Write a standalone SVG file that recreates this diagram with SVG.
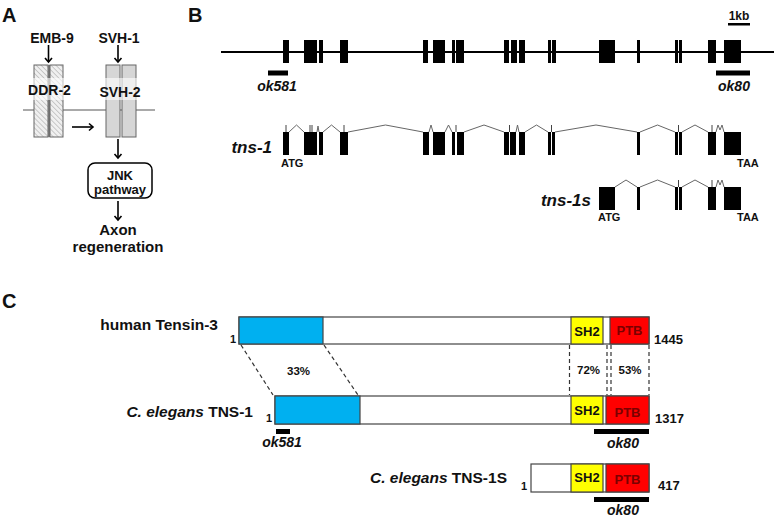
<svg xmlns="http://www.w3.org/2000/svg" width="775" height="518" viewBox="0 0 775 518">
<style>
text{font-family:"Liberation Sans",Arial,sans-serif;font-weight:bold;fill:#111}
.pl{font-size:20px}
.a{font-size:14px;text-anchor:middle}
.ex{fill:#000}
.intr{fill:none;stroke:#666;stroke-width:1}
.tick{stroke:#444;stroke-width:1}
.bar{stroke:#444;stroke-width:1.2}
.dash{stroke:#333;stroke-width:1.2;stroke-dasharray:4 3;fill:none}
.arr{stroke:#000;stroke-width:1.6;fill:none;marker-end:url(#ah)}
.lbl{font-size:15.5px;text-anchor:end}
.num{font-size:13px}
.dom{font-size:13px;text-anchor:middle}
.ptb{fill:#7a0000}
.pct{font-size:11.5px;text-anchor:middle}
.mut{font-size:14px;text-anchor:middle;font-style:italic}
.tr{font-size:17px;font-style:italic;text-anchor:end}
.cod{font-size:11px}
</style>
<defs>
<marker id="ah" markerWidth="10" markerHeight="10" refX="5" refY="5" orient="auto" markerUnits="userSpaceOnUse">
<path d="M1,1.5 L5,5 L1,8.5" fill="none" stroke="#000" stroke-width="1.6"/>
</marker>
<pattern id="hatch" width="3.5" height="3.5" patternUnits="userSpaceOnUse" patternTransform="rotate(-45)">
<rect width="3.5" height="3.5" fill="#f0f0f0"/>
<line x1="0" y1="0" x2="0" y2="3.5" stroke="#a0a0a0" stroke-width="1"/>
</pattern>
</defs>

<!-- Panel letters -->
<text class="pl" x="2" y="22">A</text>
<text class="pl" x="188" y="22">B</text>
<text class="pl" x="2" y="308">C</text>

<!-- ===== Panel A ===== -->
<line x1="23" y1="110" x2="155" y2="110" stroke="#555" stroke-width="1"/>
<g id="emb9"><text class="a" x="52" y="43">EMB-9</text></g>
<g id="svh1"><text class="a" x="119" y="43">SVH-1</text></g>
<g id="ddr2">
<rect x="34" y="65" width="14" height="72" fill="url(#hatch)" stroke="#666" stroke-width="1"/>
<rect x="48" y="65" width="2" height="72" fill="#777"/>
<rect x="50" y="65" width="13" height="72" fill="url(#hatch)" stroke="#666" stroke-width="1"/>
<rect x="33" y="78" width="31" height="22" fill="#fff" opacity="0.6"/>
<text class="a" x="49.5" y="95">DDR-2</text>
</g>
<g id="svh2">
<rect x="106" y="65" width="14" height="72" fill="#d6d6d6" stroke="#666" stroke-width="1"/>
<rect x="122" y="65" width="14" height="72" fill="#d6d6d6" stroke="#666" stroke-width="1"/>
<rect x="105" y="78" width="32" height="22" fill="#fff" opacity="0.6"/>
<text class="a" x="120" y="97">SVH-2</text>
</g>
<g id="jnk">
<rect x="88" y="163" width="64" height="35" rx="7" fill="#fff" stroke="#000" stroke-width="1.5"/>
<text class="a" x="120" y="180" style="font-size:13px">JNK</text>
<text class="a" x="120" y="194" style="font-size:13px">pathway</text>
</g>
<g id="axon">
<text class="a" x="118" y="235" style="font-size:15px">Axon</text>
<text class="a" x="118" y="252" style="font-size:15px">regeneration</text>
</g>
<g id="connectors-A">
<line class="arr" x1="48.5" y1="45" x2="48.5" y2="62"/>
<line class="arr" x1="118" y1="45" x2="118" y2="62"/>
<line class="arr" x1="72" y1="127" x2="93" y2="127"/>
<line class="arr" x1="118" y1="139" x2="118" y2="158"/>
<line class="arr" x1="118" y1="201" x2="118" y2="220"/>
</g>

<!-- ===== Panel B ===== -->
<g id="genomic">
<line x1="221" y1="52" x2="774" y2="52" stroke="#000" stroke-width="2"/>
<g class="ex">
<rect x="283" y="40" width="6" height="23"/>
<rect x="304" y="40" width="13" height="23"/>
<rect x="319" y="40" width="4" height="23"/>
<rect x="340" y="40" width="8" height="23"/>
<rect x="423" y="40" width="5" height="23"/>
<rect x="433" y="40" width="12" height="23"/>
<rect x="452" y="40" width="3" height="23"/>
<rect x="456" y="40" width="8" height="23"/>
<rect x="504" y="40" width="5" height="23"/>
<rect x="511" y="40" width="6" height="23"/>
<rect x="519" y="40" width="6" height="23"/>
<rect x="548" y="40" width="3" height="23"/>
<rect x="552" y="40" width="4" height="23"/>
<rect x="599" y="40" width="16" height="23"/>
<rect x="637" y="40" width="3" height="23"/>
<rect x="675" y="40" width="3" height="23"/>
<rect x="679" y="40" width="3" height="23"/>
<rect x="708" y="40" width="8" height="23"/>
<rect x="724" y="40" width="17" height="23"/>
</g>
</g>
<g id="scale">
<rect x="728" y="23" width="22" height="2.5" fill="#000"/>
<text x="739" y="20" style="font-size:12px;text-anchor:middle">1kb</text>
</g>
<g id="ok581-gene">
<rect x="268" y="70.5" width="20" height="5" fill="#000"/>
<text class="mut" x="277" y="91">ok581</text>
</g>
<g id="ok80-gene">
<rect x="716" y="70.5" width="34" height="5" fill="#000"/>
<text class="mut" x="734" y="91">ok80</text>
</g>

<g id="tns1">
<text class="tr" x="272" y="153">tns-1</text>
<g class="ex">
<rect x="283" y="132" width="6" height="23"/>
<rect x="304" y="132" width="13" height="23"/>
<rect x="319" y="132" width="4" height="23"/>
<rect x="340" y="132" width="8" height="23"/>
<rect x="423" y="132" width="6" height="23"/>
<rect x="433" y="132" width="12" height="23"/>
<rect x="452" y="132" width="3" height="23"/>
<rect x="457" y="132" width="7" height="23"/>
<rect x="504" y="132" width="5" height="23"/>
<rect x="510" y="132" width="6" height="23"/>
<rect x="519" y="132" width="6" height="23"/>
<rect x="548" y="132" width="3" height="23"/>
<rect x="552" y="132" width="3" height="23"/>
<rect x="637" y="132" width="3" height="23"/>
<rect x="675" y="132" width="3" height="23"/>
<rect x="679" y="132" width="3" height="23"/>
<rect x="708" y="132" width="8" height="23"/>
<rect x="724" y="132" width="17" height="23"/>
</g>
<path class="intr" d="M289,132 L296.5,125 L304,132 M317,132 L318,126 L319,132 M323,132 L331.5,125 L340,132 M348,132 L385.5,125 L423,132 M429,132 L431,125 L433,132 M445,132 L448.5,125 L452,132 M464,132 L484,125 L504,132 M516,132 L517.5,125 L519,132 M525,132 L536.5,125 L548,132 M555,132 L596,125 L637,132 M640,132 L657.5,125 L675,132 M682,132 L695,125 L708,132 M716,132 L718,125 L720,130 L722,125 L724,132"/>
<path class="tick" d="M286,125 V132 M310,125 V132 M312,125 V132 M344,125 V132 M456,125 V132 M509.5,125 V132 M551.5,125 V132 M678.5,125 V132 M712,125 V132"/>
<text class="cod" x="281" y="167">ATG</text>
<text class="cod" x="737" y="167">TAA</text>
</g>

<g id="tns1s">
<text class="tr" x="591" y="206">tns-1s</text>
<g class="ex">
<rect x="599" y="187" width="16" height="23"/>
<rect x="637" y="187" width="3" height="23"/>
<rect x="675" y="187" width="3" height="23"/>
<rect x="679" y="187" width="3" height="23"/>
<rect x="708" y="187" width="8" height="23"/>
<rect x="724" y="187" width="17" height="23"/>
</g>
<path class="intr" d="M615,187 L626,180 L637,187 M640,187 L657.5,180 L675,187 M682,187 L695,180 L708,187 M716,187 L718,180 L720,185 L722,180 L724,187"/>
<path class="tick" d="M678.5,180 V187 M712,180 V187"/>
<text class="cod" x="598" y="221">ATG</text>
<text class="cod" x="737" y="221">TAA</text>
</g>

<!-- ===== Panel C ===== -->
<g id="human-tensin3">
<text class="lbl" x="218" y="330">human Tensin-3</text>
<text x="230" y="343" style="font-size:11px">1</text>
<rect class="bar" x="239" y="317" width="410" height="27" fill="#fff"/>
<rect class="bar" x="239" y="317" width="84" height="27" fill="#00b0f0"/>
<rect class="bar" x="571" y="317" width="32" height="27" fill="#ffff00"/>
<rect class="bar" x="610" y="317" width="39" height="27" fill="#ff0000"/>
<text class="dom" x="587" y="336">SH2</text>
<text class="dom ptb" x="629.5" y="335">PTB</text>
<text class="num" x="654" y="344">1445</text>
</g>
<g id="ce-tns1">
<text class="lbl" x="253" y="417"><tspan font-style="italic">C. elegans</tspan> TNS-1</text>
<text x="266" y="422" style="font-size:11px">1</text>
<rect class="bar" x="275" y="396" width="374" height="28" fill="#fff"/>
<rect class="bar" x="275" y="396" width="85" height="28" fill="#00b0f0"/>
<rect class="bar" x="571" y="396" width="32" height="28" fill="#ffff00"/>
<rect class="bar" x="606" y="396" width="43" height="28" fill="#ff0000"/>
<text class="dom" x="587" y="415">SH2</text>
<text class="dom ptb" x="627.5" y="417">PTB</text>
<text class="num" x="655" y="423">1317</text>
<rect x="276" y="429" width="14" height="5" fill="#000"/>
<text class="mut" x="282" y="447">ok581</text>
<rect x="594" y="429" width="55" height="5" fill="#000"/>
<text class="mut" x="623" y="448">ok80</text>
</g>
<g id="ce-tns1s">
<text class="lbl" x="507" y="483"><tspan font-style="italic">C. elegans</tspan> TNS-1S</text>
<text x="521" y="490" style="font-size:11px">1</text>
<rect class="bar" x="531" y="464" width="118" height="28" fill="#fff"/>
<rect class="bar" x="571" y="464" width="32" height="28" fill="#ffff00"/>
<rect class="bar" x="606" y="464" width="43" height="28" fill="#ff0000"/>
<text class="dom" x="587" y="482">SH2</text>
<text class="dom ptb" x="627.5" y="484">PTB</text>
<text class="num" x="658" y="490">417</text>
<rect x="594" y="497" width="55" height="5" fill="#000"/>
<text class="mut" x="623" y="515">ok80</text>
</g>
<g id="connectors-C">
<line class="dash" x1="241" y1="345" x2="273" y2="395"/>
<line class="dash" x1="324" y1="345" x2="358" y2="395"/>
<line class="dash" x1="569.5" y1="345" x2="569.5" y2="395"/>
<line class="dash" x1="607" y1="345" x2="607" y2="395"/>
<line class="dash" x1="611" y1="345" x2="611" y2="395"/>
<line class="dash" x1="649" y1="345" x2="649" y2="395"/>
<text class="pct" x="298.5" y="375">33%</text>
<text class="pct" x="588.5" y="374">72%</text>
<text class="pct" x="630" y="374">53%</text>
</g>
</svg>
